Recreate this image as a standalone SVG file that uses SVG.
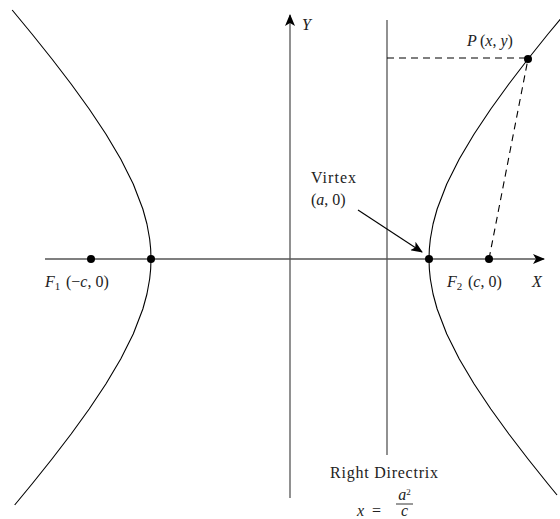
<svg xmlns="http://www.w3.org/2000/svg" width="560" height="519" viewBox="0 0 560 519">
<style>
.curve{fill:none;stroke:#000;stroke-width:1.1;stroke-linejoin:round}
.axis{stroke:#000;stroke-width:1.1;fill:none}
.gray{stroke:#555;stroke-width:1.3;fill:none}
.dash{stroke:#000;stroke-width:1.1;stroke-dasharray:7 5;fill:none}
.dot{fill:#000}
text{font-family:"Liberation Serif","DejaVu Serif",serif;font-size:16px;fill:#222}
.it{font-style:italic}
</style>
<defs>
<marker id="arr" viewBox="0 0 12 10" refX="11" refY="5" markerWidth="12" markerHeight="10" markerUnits="userSpaceOnUse" orient="auto">
<path d="M0,0 L12,5 L0,10 L3,5 Z" fill="#000"/>
</marker>
</defs>
<g id="connectors">
<line class="axis" x1="45" y1="259" x2="544" y2="259" marker-end="url(#arr)"/>
<line class="gray" x1="290" y1="498" x2="290" y2="15" marker-end="url(#arr)"/>
<line class="gray" x1="387" y1="20" x2="387" y2="455"/>
<line class="dash" x1="387" y1="58" x2="528" y2="58"/>
<line class="dash" x1="489" y1="259" x2="528" y2="59"/>
<line class="axis" x1="358" y1="210" x2="422" y2="252" marker-end="url(#arr)"/>
</g>
<g id="right-branch">
<path class="curve" d="M578.78,-3 L548.02,34 L528.03,59 L508.87,84 L490.80,109 L474.13,134 L459.28,159 L446.75,184 L437.15,209 L433.05,224 L430.34,239 L429.34,249 L429,259 L429.34,269 L430.34,279 L433.05,294 L437.15,309 L446.75,334 L459.28,359 L474.13,384 L490.80,409 L508.87,434 L528.03,459 L548.02,484 L557.03,495"/>
</g>
<g id="left-branch">
<path class="curve" d="M12.17,10 L31.98,34 L51.97,59 L71.13,84 L89.20,109 L105.87,134 L120.72,159 L133.25,184 L142.85,209 L146.95,224 L149.66,239 L150.66,249 L151,259 L150.66,269 L149.66,279 L146.95,294 L142.85,309 L133.25,334 L120.72,359 L105.87,384 L89.20,409 L71.13,434 L51.97,459 L31.98,484 L14.67,505"/>
</g>
<g id="F1">
<circle class="dot" cx="91" cy="259" r="4"/>
<text x="45" y="287"><tspan class="it">F</tspan><tspan font-size="11" dy="3">1</tspan><tspan dy="-3" x="66">(−</tspan><tspan class="it">c</tspan><tspan>, 0)</tspan></text>
</g>
<g id="left-vertex">
<circle class="dot" cx="151" cy="259" r="4"/>
</g>
<g id="right-vertex">
<circle class="dot" cx="429" cy="259" r="4"/>
<text x="311" y="183" textLength="45" lengthAdjust="spacing">Virtex</text>
<text x="311" y="205">(<tspan class="it">a</tspan>, 0)</text>
</g>
<g id="F2">
<circle class="dot" cx="489" cy="259" r="4"/>
<text x="447" y="287"><tspan class="it">F</tspan><tspan font-size="11" dy="3">2</tspan><tspan dy="-3" x="468">(</tspan><tspan class="it">c</tspan><tspan>, 0)</tspan></text>
</g>
<g id="P">
<circle class="dot" cx="528" cy="59" r="4"/>
<text x="467" y="46"><tspan class="it">P</tspan><tspan x="480">(</tspan><tspan class="it">x</tspan>, <tspan class="it">y</tspan>)</text>
</g>
<g id="X-label"><text class="it" x="532" y="287">X</text></g>
<g id="Y-label"><text class="it" x="302" y="30">Y</text></g>
<g id="directrix-label">
<text x="330" y="478" textLength="108" lengthAdjust="spacing">Right Directrix</text>
<text x="357" y="516"><tspan class="it">x</tspan><tspan x="372">=</tspan></text>
<text x="404.5" y="500" text-anchor="middle" font-size="12"><tspan class="it">a</tspan><tspan font-size="9" dy="-5">2</tspan></text>
<line x1="396" y1="504" x2="413" y2="504" stroke="#000" stroke-width="0.8"/>
<text class="it" x="404.5" y="516" text-anchor="middle" font-size="12">c</text>
</g>
</svg>
